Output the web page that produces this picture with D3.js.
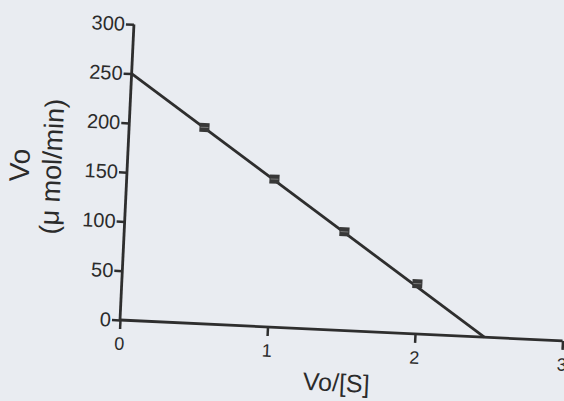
<!DOCTYPE html>
<html>
<head>
<meta charset="utf-8">
<script src="https://cdn.jsdelivr.net/npm/d3@7"></script>
<style>
  body { margin: 0; background: #e9ecf1; }
  svg { display: block; }
  text { font-family: "Liberation Sans", Arial, sans-serif; fill: #2b2b2b; }
</style>
</head>
<body>
<svg id="chart" width="564" height="401"></svg>
<script>
// Eadie-Hofstee style plot: Vo vs Vo/[S]
const xVals = [0.51, 1.0, 1.49, 2.0];
const yVals = [199, 150, 100, 51];
const fitLine = [[0, 250], [2.47, 0]];
const xTicks = [0, 1, 2, 3];
const yTicks = [0, 50, 100, 150, 200, 250, 300];

const svg = d3.select("#chart");
const ink = "#2e2e2e";

// the scan is slightly tilted, so the whole plot is rotated a bit
const g = svg.append("g")
  .attr("transform", "translate(120,320) rotate(2.7)");

const x = d3.scaleLinear().domain([0, 3]).range([0, 443]);
const y = d3.scaleLinear().domain([0, 300]).range([0, -296]);

// x axis
const xAxis = g.append("g")
  .attr("font-size", 18)
  .call(d3.axisBottom(x).tickValues(xTicks).tickSize(9).tickPadding(8).tickFormat(d3.format("d")));
xAxis.attr("font-size", 18).attr("font-family", null);
xAxis.select(".domain").attr("stroke", ink).attr("stroke-width", 2.8).attr("d", "M0,0H443");
xAxis.selectAll(".tick line").attr("stroke", ink).attr("stroke-width", 2.5);
xAxis.selectAll(".tick text").attr("fill", ink);

// y axis
const yAxis = g.append("g")
  .call(d3.axisLeft(y).tickValues(yTicks).tickSize(8).tickPadding(1));
yAxis.attr("font-size", 20).attr("font-family", null);
yAxis.select(".domain").attr("stroke", ink).attr("stroke-width", 2.8).attr("d", "M0,0V-296");
yAxis.selectAll(".tick line").attr("stroke", ink).attr("stroke-width", 2.5);
yAxis.selectAll(".tick text").attr("fill", ink);

// fitted line
g.append("path")
  .datum(fitLine)
  .attr("fill", "none")
  .attr("stroke", ink)
  .attr("stroke-width", 2.8)
  .attr("d", d3.line().x(d => x(d[0])).y(d => y(d[1])));

// points (small squares with tiny error bars)
const pts = xVals.map((v, i) => ({ x: v, y: yVals[i] }));
g.selectAll(".pt")
  .data(pts)
  .enter().append("rect")
  .attr("class", "pt")
  .attr("x", d => x(d.x) - 5)
  .attr("y", d => y(d.y) - 4.5)
  .attr("width", 10)
  .attr("height", 9)
  .attr("fill", "#383838");
g.selectAll(".bar")
  .data(pts)
  .enter().append("line")
  .attr("x1", d => x(d.x) - 4)
  .attr("x2", d => x(d.x) + 4)
  .attr("y1", d => y(d.y))
  .attr("y2", d => y(d.y))
  .attr("stroke", "#777")
  .attr("stroke-width", 1);

// axis titles
g.append("text")
  .attr("x", 219)
  .attr("y", 61)
  .attr("text-anchor", "middle")
  .style("font-size", "25px")
  .text("Vo/[S]");

g.append("text")
  .attr("transform", "translate(-98,-150) rotate(-90)")
  .attr("text-anchor", "middle")
  .style("font-size", "28px")
  .text("Vo");

g.append("text")
  .attr("transform", "translate(-66,-150) rotate(-90)")
  .attr("text-anchor", "middle")
  .style("font-size", "27px")
  .text("(\u03bc mol/min)");
</script>
</body>
</html>
